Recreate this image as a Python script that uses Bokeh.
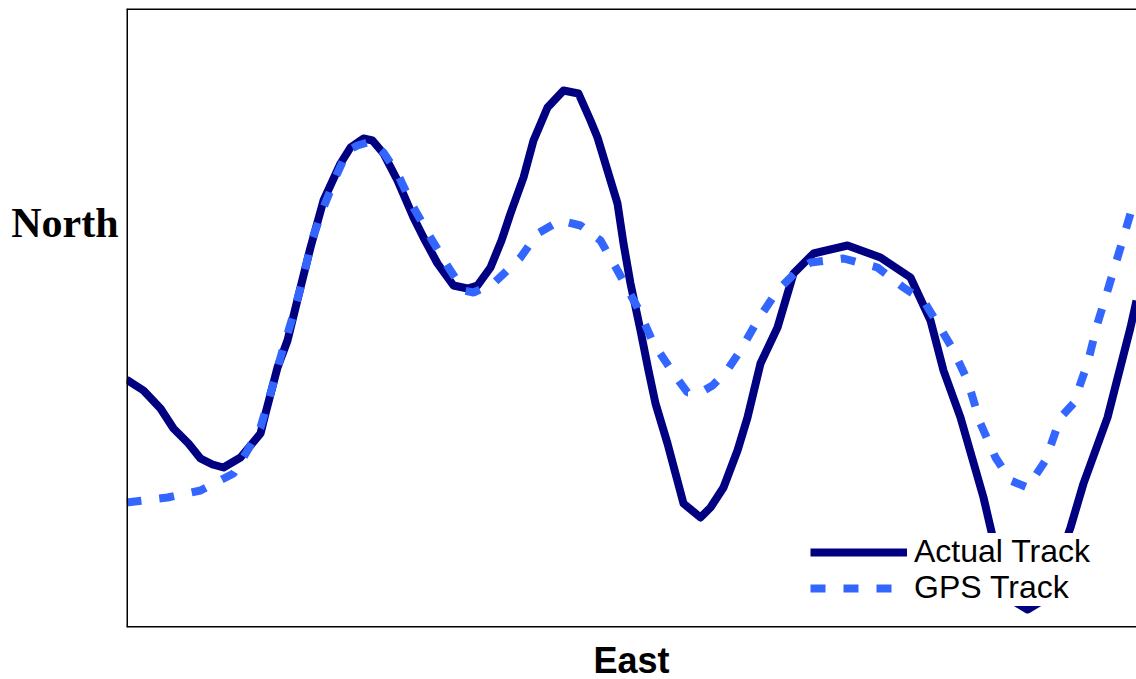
from bokeh.plotting import figure
from bokeh.models import Legend, LegendItem, Span, FixedTicker, Range1d
from bokeh.embed import file_html
from bokeh.resources import INLINE

# Actual track (East, North) in arbitrary distance units
actual_east = [0, 17, 34, 47, 62, 74, 86, 97, 114, 134, 139, 151, 161, 174, 184, 197,
               214, 224, 237, 246, 257, 271, 287, 297, 311, 327, 341, 351, 364, 375,
               384, 397, 407, 421, 437, 452, 464, 471, 481, 491, 497, 504, 514, 522,
               529, 541, 557, 574, 584, 597, 611, 621, 634, 651, 667, 687, 721, 754,
               784, 804, 817, 834, 857, 864, 874, 886, 901, 916, 929, 944, 957, 981,
               1004, 1010]
actual_north = [248, 237, 219, 199, 184, 169, 163, 160, 170, 194, 214, 260, 287, 340,
                380, 427, 464, 480, 489, 487, 474, 447, 410, 390, 364, 342, 339, 342,
                360, 387, 414, 450, 487, 520, 537, 534, 507, 490, 457, 424, 384, 344,
                297, 257, 224, 184, 124, 110, 120, 140, 177, 210, 264, 300, 354, 374,
                382, 370, 350, 307, 257, 210, 130, 100, 57, 27, 18, 27, 57, 100, 144,
                210, 300, 327]

# GPS track
gps_east = [0, 41, 74, 107, 121, 134, 144, 156, 166, 176, 186, 197, 209, 221, 231,
            244, 257, 271, 287, 304, 322, 337, 347, 367, 394, 411, 434, 454, 474,
            491, 511, 527, 547, 561, 574, 586, 599, 614, 631, 651, 671, 684, 717,
            751, 777, 797, 811, 826, 841, 854, 869, 884, 901, 919, 934, 947, 961,
            971, 982, 994, 1004, 1010]
gps_north = [125, 130, 137, 154, 177, 200, 234, 277, 310, 347, 389, 420, 450, 477,
             482, 486, 475, 454, 420, 390, 360, 337, 335, 344, 370, 394, 407, 402,
             387, 357, 320, 284, 254, 235, 235, 242, 255, 277, 307, 337, 357, 365,
             369, 360, 340, 327, 304, 279, 247, 204, 170, 147, 140, 167, 210, 224,
             264, 304, 340, 380, 414, 427]

series_names = ["Actual Track", "GPS Track"]
x_title = "East"
y_title = "North"
y_title_at = 405

NAVY = "#000080"
GPS_BLUE = "#3366ff"

p = figure(frame_width=1010, frame_height=619, output_backend="svg",
           toolbar_location=None, x_range=Range1d(0, 1010), y_range=Range1d(0, 619),
           min_border_left=126, min_border_right=0, min_border_top=8,
           min_border_bottom=0)
p.outline_line_color = None
p.grid.visible = False

xa = p.xaxis[0]
xa.ticker = FixedTicker(ticks=[])
xa.axis_line_color = None
xa.major_tick_line_color = None
xa.minor_tick_line_color = None
xa.major_label_text_font_size = "0px"
xa.axis_label = x_title
xa.axis_label_text_font = "Liberation Sans"
xa.axis_label_text_font_style = "bold"
xa.axis_label_text_font_size = "36px"
xa.axis_label_text_color = "black"
xa.axis_label_standoff = 12

ya = p.yaxis[0]
ya.ticker = FixedTicker(ticks=[y_title_at])
ya.major_label_overrides = {y_title_at: y_title}
ya.axis_line_color = None
ya.major_tick_line_color = None
ya.minor_tick_line_color = None
ya.major_tick_out = 0
ya.major_tick_in = 0
ya.major_label_standoff = 8
ya.major_label_text_font = "Liberation Serif"
ya.major_label_text_font_style = "bold"
ya.major_label_text_font_size = "42px"
ya.major_label_text_color = "black"

r_act = p.line(actual_east, actual_north, line_color=NAVY, line_width=8,
               line_join="round")
r_gps = p.line(gps_east, gps_north, line_color=GPS_BLUE, line_width=8,
               line_dash="15 18")

# frame borders: left, top, bottom (right side runs off the page)
p.add_layout(Span(location=0, dimension="height", line_color="black", line_width=3))
p.add_layout(Span(location=619, dimension="width", line_color="black", line_width=3))
p.add_layout(Span(location=0, dimension="width", line_color="black", line_width=3))

common = dict(padding=0, margin=0, spacing=0, glyph_width=97, glyph_height=30,
              label_height=30, label_standoff=7, label_text_font="Liberation Sans",
              label_text_font_size="32px", label_text_color="black",
              border_line_color=None, background_fill_color="white",
              background_fill_alpha=1.0)
leg1 = Legend(items=[LegendItem(label=series_names[0], renderers=[r_act])],
              location=(684, 57), **common)
leg2 = Legend(items=[LegendItem(label=series_names[1], renderers=[r_gps])],
              location=(684, 21), **common)
p.add_layout(leg1)
p.add_layout(leg2)

open("out.html", "w").write(file_html(p, INLINE))
